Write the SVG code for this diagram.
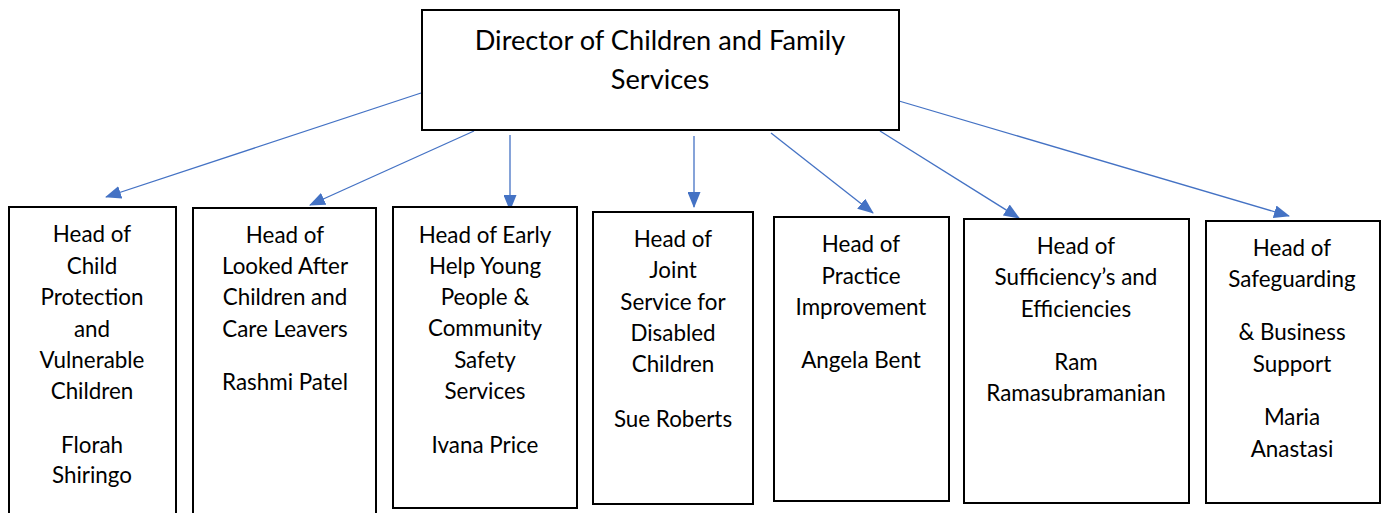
<svg xmlns="http://www.w3.org/2000/svg" width="1381" height="513" viewBox="0 0 1381 513">
<style>
.box{fill:#fff;stroke:#000;stroke-width:2}
.t{font-family:Lato,"Liberation Sans",sans-serif;font-size:22.4px;fill:#000;text-anchor:middle}
.title{font-family:Lato,"Liberation Sans",sans-serif;font-size:27.2px;fill:#000;text-anchor:middle}
.c{stroke:#4472C4;stroke-width:1.3;fill:none;marker-end:url(#ah)}
</style>
<defs>
<marker id="ah" markerWidth="16" markerHeight="13" refX="15" refY="6.5" orient="auto" markerUnits="userSpaceOnUse">
<path d="M0,0 L16,6.5 L0,13 z" fill="#4472C4"/>
</marker>
</defs>
<rect width="1381" height="513" fill="#fff"/>
<g id="connectors">
<line class="c" x1="421" y1="93" x2="106" y2="197"/>
<line class="c" x1="474" y1="131" x2="310" y2="205"/>
<line class="c" x1="510" y1="135" x2="510" y2="210"/>
<line class="c" x1="694" y1="136" x2="694" y2="207"/>
<line class="c" x1="771" y1="133" x2="873" y2="213"/>
<line class="c" x1="880" y1="131" x2="1019" y2="218"/>
<line class="c" x1="899" y1="101" x2="1289" y2="216"/>
</g>
<g id="director">
<rect class="box" x="422" y="10" width="477" height="120"/>
<text class="title" x="660" y="50">Director of Children and Family</text>
<text class="title" x="660" y="89">Services</text>
</g>
<g id="head-child-protection">
<rect class="box" x="9" y="207" width="167" height="320"/>
<text class="t" x="92" y="242">Head of</text>
<text class="t" x="92" y="274">Child</text>
<text class="t" x="92" y="305">Protection</text>
<text class="t" x="92" y="337">and</text>
<text class="t" x="92" y="368">Vulnerable</text>
<text class="t" x="92" y="399">Children</text>
<text class="t" x="92" y="453">Florah</text>
<text class="t" x="92" y="483">Shiringo</text>
</g>
<g id="head-looked-after">
<rect class="box" x="193" y="208" width="183" height="320"/>
<text class="t" x="285" y="243">Head of</text>
<text class="t" x="285" y="274">Looked After</text>
<text class="t" x="285" y="305">Children and</text>
<text class="t" x="285" y="337">Care Leavers</text>
<text class="t" x="285" y="390">Rashmi Patel</text>
</g>
<g id="head-early-help">
<rect class="box" x="393" y="207" width="184" height="301"/>
<text class="t" x="485" y="243">Head of Early</text>
<text class="t" x="485" y="274">Help Young</text>
<text class="t" x="485" y="305">People &amp;</text>
<text class="t" x="485" y="336">Community</text>
<text class="t" x="485" y="368">Safety</text>
<text class="t" x="485" y="399">Services</text>
<text class="t" x="485" y="453">Ivana Price</text>
</g>
<g id="head-joint-service">
<rect class="box" x="593" y="212" width="160" height="292"/>
<text class="t" x="673" y="247">Head of</text>
<text class="t" x="673" y="278">Joint</text>
<text class="t" x="673" y="310">Service for</text>
<text class="t" x="673" y="341">Disabled</text>
<text class="t" x="673" y="372">Children</text>
<text class="t" x="673" y="427">Sue Roberts</text>
</g>
<g id="head-practice">
<rect class="box" x="774" y="217" width="175" height="284"/>
<text class="t" x="861" y="252">Head of</text>
<text class="t" x="861" y="284">Practice</text>
<text class="t" x="861" y="315">Improvement</text>
<text class="t" x="861" y="368">Angela Bent</text>
</g>
<g id="head-sufficiency">
<rect class="box" x="964" y="219" width="225" height="284"/>
<text class="t" x="1076" y="254">Head of</text>
<text class="t" x="1076" y="285">Sufficiency’s and</text>
<text class="t" x="1076" y="317">Efficiencies</text>
<text class="t" x="1076" y="370">Ram</text>
<text class="t" x="1076" y="401">Ramasubramanian</text>
</g>
<g id="head-safeguarding">
<rect class="box" x="1206" y="221" width="174" height="282"/>
<text class="t" x="1292" y="256">Head of</text>
<text class="t" x="1292" y="287">Safeguarding</text>
<text class="t" x="1292" y="340">&amp; Business</text>
<text class="t" x="1292" y="372">Support</text>
<text class="t" x="1292" y="425">Maria</text>
<text class="t" x="1292" y="457">Anastasi</text>
</g>
</svg>
